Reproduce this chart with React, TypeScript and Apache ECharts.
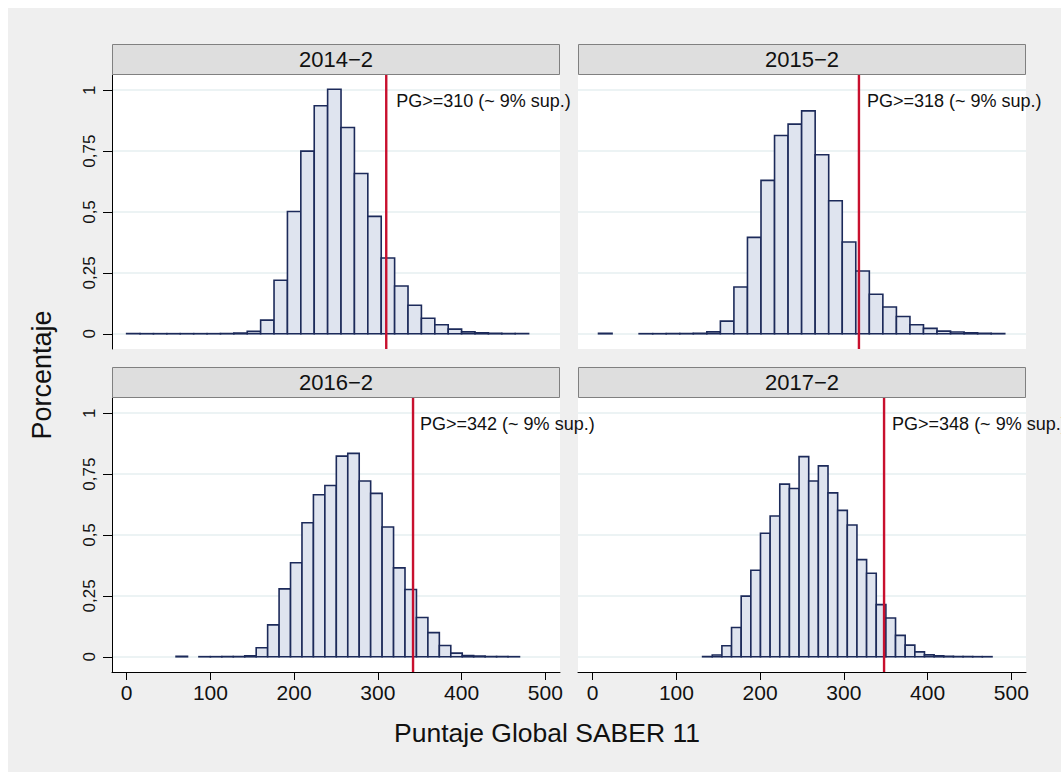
import { useEffect, useRef } from "react";
import * as echarts from "echarts";

// ---------- data ----------
const PANEL_TITLES = ["2014\u22122", "2015\u22122", "2016\u22122", "2017\u22122"];
const CUT_POINTS = [310, 318, 342, 348];
const BIN_STARTS = [0, 7, 59, 131.3];
const BIN_WIDTHS = [16, 16.17, 13.67, 11.52];

const H_2014 = [0.0005, 0.0005, 0.0005, 0.0005, 0.0005, 0.0005, 0.0005, 0.001, 0.003, 0.01, 0.056, 0.22, 0.502, 0.75, 0.936, 1.004, 0.847, 0.658, 0.482, 0.311, 0.196, 0.117, 0.064, 0.037, 0.019, 0.008, 0.004, 0.002, 0.001, 0.0005];
const H_2015 = [0.002, 0, 0, 0.0005, 0.0005, 0.001, 0.001, 0.002, 0.008, 0.052, 0.192, 0.396, 0.63, 0.814, 0.861, 0.915, 0.735, 0.546, 0.377, 0.258, 0.162, 0.11, 0.071, 0.037, 0.022, 0.011, 0.007, 0.004, 0.002, 0.001];
const H_2016 = [0.002, 0, 0.0005, 0.0005, 0.001, 0.001, 0.004, 0.037, 0.131, 0.279, 0.386, 0.55, 0.665, 0.703, 0.824, 0.835, 0.722, 0.671, 0.533, 0.365, 0.276, 0.161, 0.099, 0.046, 0.015, 0.005, 0.003, 0.001, 0.001, 0.0005];
const H_2017 = [0.001, 0.007, 0.045, 0.12, 0.249, 0.355, 0.507, 0.578, 0.709, 0.691, 0.822, 0.722, 0.784, 0.673, 0.601, 0.541, 0.399, 0.343, 0.214, 0.159, 0.088, 0.048, 0.02, 0.008, 0.004, 0.002, 0.001, 0.001, 0.0005, 0.0005];
const HEIGHTS = [H_2014, H_2015, H_2016, H_2017];

const X_TICKS = [0, 100, 200, 300, 400, 500];
const Y_TICKS = [0, 0.25, 0.5, 0.75, 1];
const X_TITLE = "Puntaje Global SABER 11";
const Y_TITLE = "Porcentaje";
const annotText = (c: number) => `PG>=${c} (~ 9% sup.)`;

// ---------- layout / style ----------
const X_MIN = -17.5;
const X_MAX = 517.5;
const Y_MIN = -0.0625;
const Y_MAX = 1.0625;
const FONT = '"Liberation Sans", Arial, Helvetica, sans-serif';
const GRIDS = [
  { left: 104, top: 67 },
  { left: 570, top: 67 },
  { left: 104, top: 390 },
  { left: 570, top: 390 },
];
const GRID_W = 448;
const GRID_H = 274;
const HEADER_H = 31;
const LABEL_GAPS = [10, 8, 7, 8];

export default function App() {
  const ref = useRef<HTMLDivElement>(null);

  useEffect(() => {
    if (!ref.current) return;
    const chart = echarts.init(ref.current, undefined, { renderer: "svg" });

    const grid: any[] = [];
    const xAxis: any[] = [];
    const yAxis: any[] = [];
    const series: any[] = [];
    const graphics: any[] = [];

    for (let p = 0; p < 4; p++) {
      const isBottom = p >= 2;
      const isLeft = p % 2 === 0;
      const g = GRIDS[p];
      grid.push({
        left: g.left,
        top: g.top,
        width: GRID_W,
        height: GRID_H,
        show: true,
        backgroundColor: "#ffffff",
        borderWidth: 0,
        containLabel: false,
      });
      xAxis.push({
        type: "value",
        gridIndex: p,
        min: X_MIN,
        max: X_MAX,
        show: isBottom,
        axisLine: { show: true, onZero: false, lineStyle: { color: "#000", width: 1 } },
        axisTick: { show: true, length: 8, customValues: X_TICKS, lineStyle: { color: "#000" } },
        axisLabel: {
          show: true,
          customValues: X_TICKS,
          fontSize: 21,
          fontFamily: FONT,
          color: "#111",
          margin: 10,
        },
        splitLine: { show: false },
      });
      yAxis.push({
        type: "value",
        gridIndex: p,
        min: Y_MIN,
        max: Y_MAX,
        axisLine: { show: isLeft, onZero: false, lineStyle: { color: "#000", width: 1 } },
        axisTick: { show: isLeft, length: 9, customValues: Y_TICKS, lineStyle: { color: "#000" } },
        axisLabel: {
          show: isLeft,
          customValues: Y_TICKS,
          rotate: 90,
          fontSize: 17,
          fontFamily: FONT,
          color: "#111",
          margin: 14,
          formatter: (v: number) => String(v).replace(".", ","),
        },
        splitLine: { show: true, lineStyle: { color: "#e6eff0", width: 1.5 } },
      });

      const start = BIN_STARTS[p];
      const w = BIN_WIDTHS[p];
      const data: number[][] = [];
      HEIGHTS[p].forEach((h, i) => {
        if (h > 0) data.push([start + i * w, start + (i + 1) * w, h]);
      });

      series.push({
        type: "custom",
        xAxisIndex: p,
        yAxisIndex: p,
        z: 2,
        encode: { x: [0, 1], y: 2 },
        data,
        renderItem: (_params: any, api: any) => {
          const p0 = api.coord([api.value(0), 0]);
          const p1 = api.coord([api.value(1), api.value(2)]);
          return {
            type: "rect",
            shape: { x: p0[0], y: p1[1], width: p1[0] - p0[0], height: p0[1] - p1[1] },
            style: { fill: "#dfe4ef", stroke: "#1c2a5a", lineWidth: 1.6 },
          };
        },
      });

      const gap = LABEL_GAPS[p];
      series.push({
        type: "custom",
        xAxisIndex: p,
        yAxisIndex: p,
        z: 5,
        clip: false,
        encode: { x: 0 },
        data: [[CUT_POINTS[p]]],
        renderItem: (_params: any, api: any) => {
          const c = api.value(0);
          const top = api.coord([c, Y_MAX]);
          const bot = api.coord([c, Y_MIN]);
          return {
            type: "group",
            children: [
              {
                type: "line",
                shape: { x1: top[0], y1: top[1], x2: bot[0], y2: bot[1] },
                style: { stroke: "#c8102e", lineWidth: 2.4 },
              },
              {
                type: "text",
                x: top[0] + gap,
                y: top[1] + 26,
                style: {
                  text: annotText(c),
                  fill: "#111",
                  fontSize: 18,
                  fontFamily: FONT,
                  align: "left",
                  verticalAlign: "middle",
                },
              },
            ],
          };
        },
      });

      // header strip
      graphics.push({
        type: "rect",
        shape: { x: g.left + 0.5, y: g.top - HEADER_H + 0.5, width: GRID_W - 1, height: HEADER_H - 1 },
        style: { fill: "#dedede", stroke: "#808080", lineWidth: 1 },
        z: 10,
      });
      graphics.push({
        type: "text",
        x: g.left + GRID_W / 2,
        y: g.top - HEADER_H / 2,
        style: {
          text: PANEL_TITLES[p],
          fill: "#111",
          fontSize: 22,
          fontFamily: FONT,
          align: "center",
          verticalAlign: "middle",
        },
        z: 11,
      });
    }

    graphics.push({
      type: "text",
      x: 34,
      y: 367,
      rotation: Math.PI / 2,
      style: {
        text: Y_TITLE,
        fill: "#111",
        fontSize: 27,
        fontFamily: FONT,
        align: "center",
        verticalAlign: "middle",
      },
    });
    graphics.push({
      type: "text",
      x: 539,
      y: 725,
      style: {
        text: X_TITLE,
        fill: "#111",
        fontSize: 26.5,
        fontFamily: FONT,
        align: "center",
        verticalAlign: "middle",
      },
    });

    chart.setOption({
      animation: false,
      backgroundColor: "#efefef",
      grid,
      xAxis,
      yAxis,
      series,
      graphic: graphics,
    });

    return () => chart.dispose();
  }, []);

  return (
    <div
      ref={ref}
      style={{ position: "absolute", left: 8, top: 8, width: 1053, height: 764 }}
    />
  );
}
